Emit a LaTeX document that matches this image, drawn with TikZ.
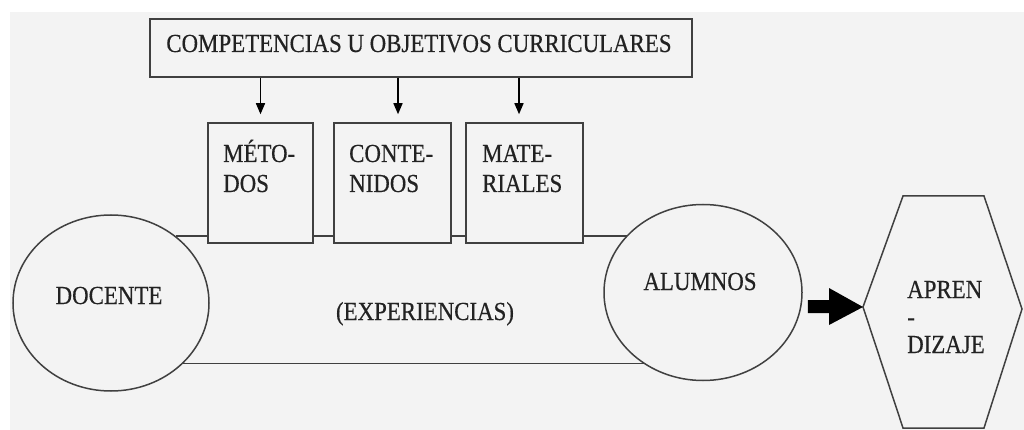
\documentclass[tikz,border=0pt]{standalone}
\usepackage{fontspec}
\newfontfamily\diafont[FakeStretch=0.88,FakeBold=0.4]{Liberation Serif}
\usetikzlibrary{shapes.geometric,arrows.meta}
\definecolor{bgc}{HTML}{F3F3F3}
\definecolor{lnc}{HTML}{404040}
\definecolor{txc}{HTML}{222222}
\begin{document}
\begin{tikzpicture}[x=1pt,y=-1pt,
  ln/.style={draw=lnc,line width=1.5pt},
  txt/.style={font=\diafont\fontsize{26}{30}\selectfont,text=txc,inner sep=0pt},
  boxn/.style={ln,fill=bgc,rectangle,inner sep=0pt},
  ell/.style={ln,ellipse,inner sep=0pt},
  arr/.style={draw=black,line width=1.4pt,-{Triangle[length=11pt,width=9pt]}}
]
\useasboundingbox (0,0) rectangle (1024,430);
\fill[white] (0,0) rectangle (1024,430);
\fill[bgc] (10,12) rectangle (1024,430);

% top box
\node[boxn, minimum width=542, minimum height=58] (top) at (421,48) {};
\node[txt, anchor=base] (toptxt) at (419,52) {COMPETENCIAS U OBJETIVOS CURRICULARES};

% ellipses
\node[ell, minimum width=196, minimum height=176] (doc) at (111,303) {};
\node[ell, minimum width=198, minimum height=176] (alu) at (703,292.5) {};
\node[txt, anchor=base] (doctxt) at (109,304) {DOCENTE};
\node[txt, anchor=base] (alutxt) at (700,290) {ALUMNOS};

% experience band
\draw[ln] (doc.46.5) -- (doc.46.5 -| alu.143.4);
\draw[ln] (doc.-40.8) -- (doc.-40.8 -| alu.-129);
\node[txt, anchor=base] (exptxt) at (425,320) {(EXPERIENCIAS)};

% small boxes
\node[boxn, minimum width=105, minimum height=120] (met) at (260.5,183) {};
\node[boxn, minimum width=117, minimum height=120] (con) at (392.5,183) {};
\node[boxn, minimum width=117, minimum height=120] (mat) at (524.5,183) {};
\node[txt, anchor=base west] (met1) at (223,162) {MÉTO-};
\node[txt, anchor=base west] (met2) at (223,192) {DOS};
\node[txt, anchor=base west] (con1) at (349,162) {CONTE-};
\node[txt, anchor=base west] (con2) at (349,192) {NIDOS};
\node[txt, anchor=base west] (mat1) at (482,162) {MATE-};
\node[txt, anchor=base west] (mat2) at (482,192) {RIALES};

% arrows from top box
\draw[arr] (top.south -| met.north) -- ([yshift=8pt]met.north);
\draw[arr] ([xshift=5.5pt]top.south -| con.north) -- ([xshift=5.5pt,yshift=8pt]con.north);
\draw[arr] ([xshift=-5.5pt]top.south -| mat.north) -- ([xshift=-5.5pt,yshift=8pt]mat.north);

% hexagon
\coordinate (hw) at (863,307);
\coordinate (he) at (1022,309);
\draw[ln] (903,196) -- (984,196) -- (he) -- (984,428) -- (903,428) -- (hw) -- cycle;
\node[txt, anchor=base west] (apr1) at (907,298) {APREN};
\node[txt, anchor=base west] (apr2) at (907,325.5) {-};
\node[txt, anchor=base west] (apr3) at (907,353) {DIZAJE};

% block arrow
\coordinate (ba) at ([xshift=5pt]alu.east);
\fill[black] (ba |- 0,300) -- (829,300) -- (829,288) -- (hw) -- (829,325) -- (829,313) -- (ba |- 0,313) -- cycle;
\end{tikzpicture}
\end{document}
